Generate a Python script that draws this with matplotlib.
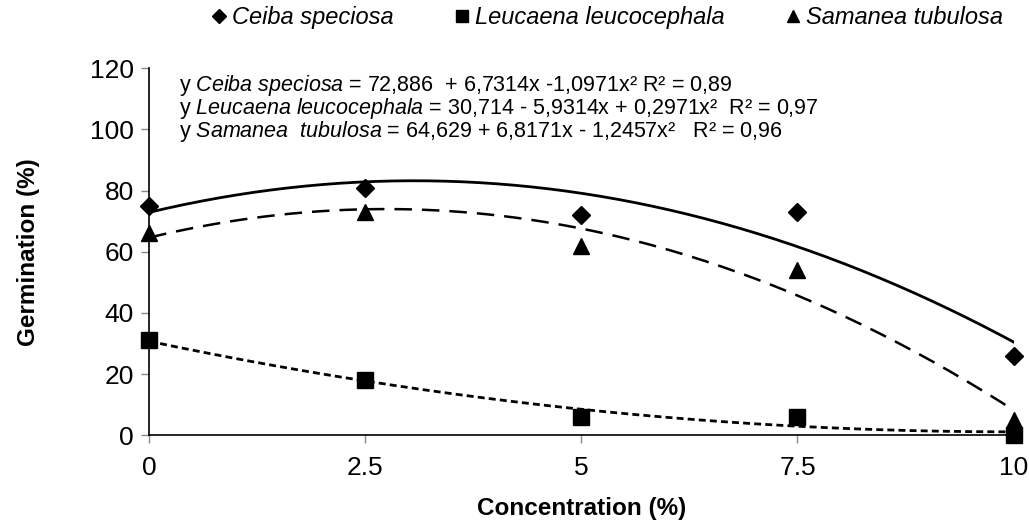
import numpy as np
import matplotlib.pyplot as plt

plt.rcParams['font.family'] = ['Liberation Sans', 'DejaVu Sans']
plt.rcParams['mathtext.fontset'] = 'custom'
plt.rcParams['mathtext.rm'] = 'Liberation Sans'
plt.rcParams['mathtext.it'] = 'Liberation Sans:italic'

# data
conc = [0, 2.5, 5, 7.5, 10]
ceiba = [75, 81, 72, 73, 26]
leucaena = [31, 18, 6, 6, 0]
samanea = [66, 73, 62, 54, 5]

# trendline coefficients from the equations (a + b*x + c*x^2)
ceiba_fit = [72.886, 6.7314, -1.0971]
leucaena_fit = [30.714, -5.9314, 0.2971]
samanea_fit = [64.629, 6.8171, -1.2457]

fig = plt.figure(figsize=(10.29, 5.25), dpi=100)
ax = fig.add_axes([0.145, 0.171, 0.84, 0.699])

xs = np.linspace(0, 10, 200)
def poly(c):
    return c[0] + c[1] * xs + c[2] * xs ** 2

ax.plot(xs, poly(ceiba_fit), color='black', lw=2, ls='-')
ax.plot(xs, poly(samanea_fit), color='black', lw=1.8, ls=(0, (7, 4)))
ax.plot(xs, poly(leucaena_fit), color='black', lw=2, ls=(0, (2.5, 1.5)))

ax.plot(conc, ceiba, 'D', color='black', ms=9, clip_on=False, label='Ceiba speciosa', zorder=5)
ax.plot(conc, leucaena, 's', color='black', ms=11, clip_on=False, label='Leucaena leucocephala', zorder=5)
ax.plot(conc, samanea, '^', color='black', ms=11, clip_on=False, label='Samanea tubulosa', zorder=5)

ax.set_xlim(0, 10)
ax.set_ylim(0, 120)
ax.set_xticks(conc)
ax.set_xticklabels(['0', '2.5', '5', '7.5', '10'])
ax.set_yticks(range(0, 121, 20))
for s in ['top', 'right']:
    ax.spines[s].set_visible(False)
ax.spines['left'].set_linewidth(1.2)
ax.spines['bottom'].set_linewidth(1.2)
ax.tick_params(axis='both', labelsize=19, length=6, color='#888888', width=1)
ax.tick_params(axis='x', pad=9)
ax.tick_params(axis='y', pad=5)

ax.set_xlabel('Concentration (%)', fontsize=17.5, fontweight='bold', labelpad=12)
ax.set_ylabel('Germination (%)', fontsize=17.5, fontweight='bold', labelpad=36)

eqs = [
    r'y $\mathit{Ceiba\ speciosa}$ = 72,886  + 6,7314x -1,0971x² R² = 0,89',
    r'y $\mathit{Leucaena\ leucocephala}$ = 30,714 - 5,9314x + 0,2971x²  R² = 0,97',
    r'y $\mathit{Samanea\ \ tubulosa}$ = 64,629 + 6,8171x - 1,2457x²   R² = 0,96',
]
for i, t in enumerate(eqs):
    ax.text(0.034, 0.953 - i * 0.063, t, transform=ax.transAxes, fontsize=15.5,
            va='center', ha='left')

fig.legend(loc='center', bbox_to_anchor=(0.588, 0.966), ncol=3, frameon=False,
           prop={'style': 'italic', 'size': 17}, handletextpad=0.05,
           columnspacing=2.4, markerscale=0.75, handlelength=1)

fig.savefig('out.png', dpi=100)
